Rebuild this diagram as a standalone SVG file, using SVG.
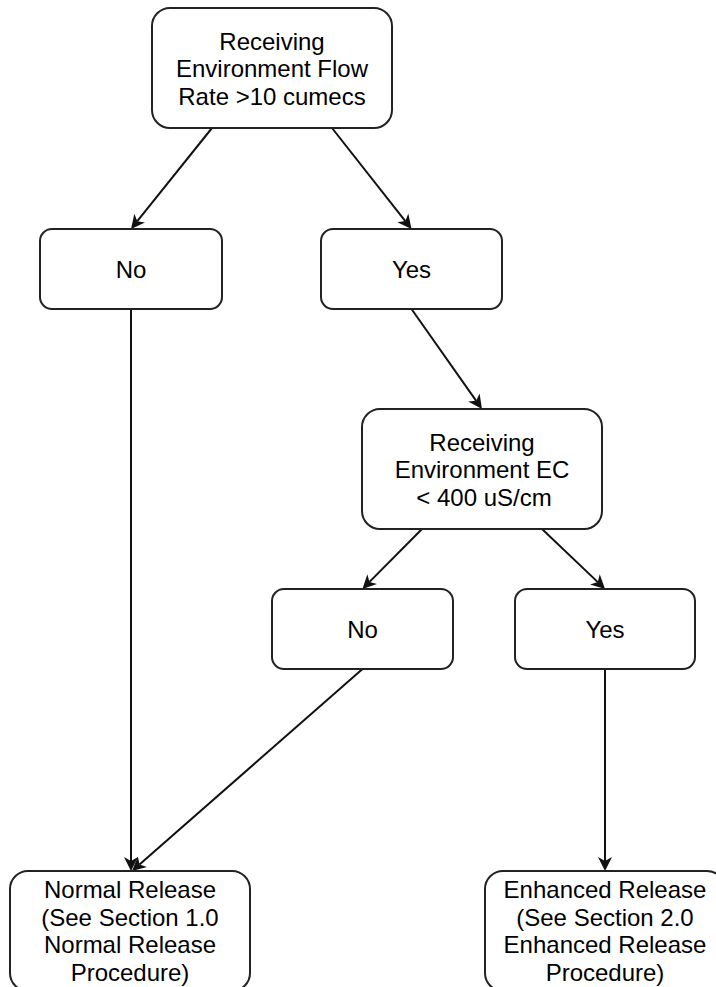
<svg xmlns="http://www.w3.org/2000/svg" width="716" height="987" viewBox="0 0 716 987">
<style>
.box{fill:#fff;stroke:#222;stroke-width:2}
.t{font-family:"Liberation Sans",Arial,sans-serif;font-size:24px;fill:#000;text-anchor:middle}
.e{fill:none;stroke:#111;stroke-width:2;marker-end:url(#arr)}
</style>
<defs>
<marker id="arr" markerUnits="userSpaceOnUse" markerWidth="14" markerHeight="14" viewBox="0 0 14 14" refX="4" refY="7" orient="auto">
<path d="M0,0 L14,7 L0,14 L4,7 z" fill="#111"/>
</marker>
</defs>
<rect width="716" height="987" fill="#fff"/>
<g id="connectors">
<line class="e" x1="212" y1="128" x2="137.3" y2="221.2"/>
<line class="e" x1="332" y1="128" x2="405.3" y2="221.1"/>
<line class="e" x1="411.5" y1="309" x2="476.2" y2="400.8"/>
<line class="e" x1="422" y1="529" x2="369.5" y2="581.9"/>
<line class="e" x1="542" y1="529" x2="597.8" y2="582.1"/>
<line class="e" x1="131" y1="309" x2="131" y2="861"/>
<line class="e" x1="362.5" y1="669" x2="139.5" y2="864.4"/>
<line class="e" x1="605" y1="669" x2="605" y2="861"/>
</g>
<g id="flow-rate">
<rect class="box" x="152" y="8" width="240" height="120" rx="18"/>
<text class="t" x="272" y="49.5">Receiving</text>
<text class="t" x="272" y="77">Environment Flow</text>
<text class="t" x="272" y="104.5">Rate &gt;10 cumecs</text>
</g>
<g id="no1">
<rect class="box" x="40" y="229" width="182" height="80" rx="12"/>
<text class="t" x="131" y="278">No</text>
</g>
<g id="yes1">
<rect class="box" x="321" y="229" width="181" height="80" rx="12"/>
<text class="t" x="411.5" y="278">Yes</text>
</g>
<g id="ec">
<rect class="box" x="362" y="409" width="240" height="120" rx="18"/>
<text class="t" x="482" y="450.5">Receiving</text>
<text class="t" x="482" y="478">Environment EC</text>
<text class="t" x="484" y="505.5">&lt; 400 uS/cm</text>
</g>
<g id="no2">
<rect class="box" x="272" y="589" width="181" height="80" rx="12"/>
<text class="t" x="362.5" y="638">No</text>
</g>
<g id="yes2">
<rect class="box" x="515" y="589" width="180" height="80" rx="12"/>
<text class="t" x="605" y="638">Yes</text>
</g>
<g id="normal">
<rect class="box" x="10" y="871" width="240" height="120" rx="18"/>
<text class="t" x="130" y="898">Normal Release</text>
<text class="t" x="130" y="925.5">(See Section 1.0</text>
<text class="t" x="130" y="953">Normal Release</text>
<text class="t" x="130" y="980.5">Procedure)</text>
</g>
<g id="enhanced">
<rect class="box" x="485" y="871" width="240" height="120" rx="18"/>
<text class="t" x="605" y="898">Enhanced Release</text>
<text class="t" x="605" y="925.5">(See Section 2.0</text>
<text class="t" x="605" y="953">Enhanced Release</text>
<text class="t" x="605" y="980.5">Procedure)</text>
</g>
</svg>
